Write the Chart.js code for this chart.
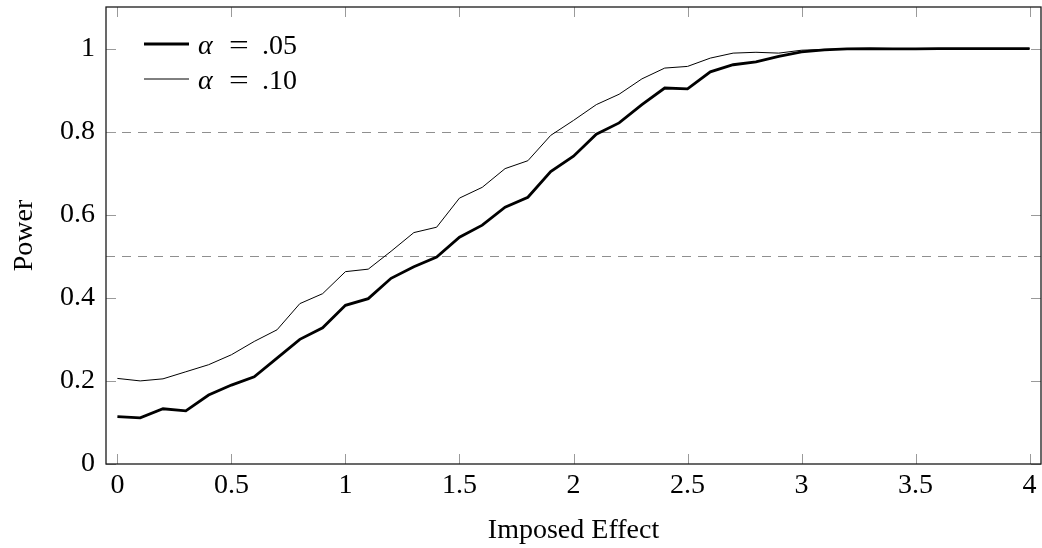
<!DOCTYPE html>
<html>
<head>
<meta charset="utf-8">
<script src="https://cdn.jsdelivr.net/npm/chart.js"></script>
<style>
  html, body { margin: 0; padding: 0; background: #fff; }
  canvas { display: block; }
</style>
</head>
<body>
<canvas id="powerChart" width="1042" height="548"></canvas>
<script>
// imposed effect (x) and power for the two alpha levels
const effects = [0, 0.1, 0.2, 0.3, 0.4, 0.5, 0.6, 0.7, 0.8, 0.9,
                 1.0, 1.1, 1.2, 1.3, 1.4, 1.5, 1.6, 1.7, 1.8, 1.9,
                 2.0, 2.1, 2.2, 2.3, 2.4, 2.5, 2.6, 2.7, 2.8, 2.9,
                 3.0, 3.1, 3.2, 3.3, 3.4, 3.5, 3.6, 3.7, 3.8, 3.9, 4.0];
const power05 = [0.114, 0.111, 0.133, 0.128, 0.166, 0.190, 0.210, 0.255, 0.300, 0.328,
                 0.382, 0.398, 0.447, 0.475, 0.498, 0.546, 0.575, 0.618, 0.642, 0.704,
                 0.741, 0.794, 0.821, 0.865, 0.905, 0.903, 0.944, 0.961, 0.968, 0.981,
                 0.992, 0.997, 0.999, 1.0, 0.999, 0.999, 1.0, 1.0, 1.0, 1.0, 1.0];
const power10 = [0.206, 0.200, 0.205, 0.222, 0.239, 0.263, 0.295, 0.323, 0.386, 0.410,
                 0.463, 0.469, 0.512, 0.557, 0.570, 0.640, 0.666, 0.711, 0.730, 0.791,
                 0.827, 0.865, 0.890, 0.927, 0.953, 0.957, 0.977, 0.989, 0.991, 0.989,
                 0.996, 0.998, 0.999, 1.0, 1.0, 1.0, 1.0, 1.0, 1.0, 1.0, 1.0];
const alphaLabels = ['.05', '.10'];
const xTicks = [0, 0.5, 1, 1.5, 2, 2.5, 3, 3.5, 4];
const yTicks = [0, 0.2, 0.4, 0.6, 0.8, 1];
const refLines = [0.5, 0.8];

const FONT = "'Liberation Serif', 'DejaVu Serif', serif";
const FSIZE = 28;

function toPoints(ys) {
    return effects.map((x, i) => ({ x: x, y: ys[i] }));
}

// dashed reference lines, inward ticks, frame and legend
const pgfLook = {
    id: 'pgfLook',
    beforeDatasetsDraw(chart) {
        const { ctx, chartArea: a, scales: { y } } = chart;
        ctx.save();
        ctx.strokeStyle = '#8f8f8f';
        ctx.lineWidth = 1;
        ctx.setLineDash([9, 7]);
        refLines.forEach(v => {
            const py = Math.round(y.getPixelForValue(v)) + 0.5;
            ctx.beginPath();
            ctx.moveTo(a.left, py);
            ctx.lineTo(a.right, py);
            ctx.stroke();
        });
        ctx.restore();
    },
    afterDatasetsDraw(chart) {
        const { ctx, chartArea: a, scales: { x, y } } = chart;
        const len = 10;
        ctx.save();
        ctx.strokeStyle = '#9a9a9a';
        ctx.lineWidth = 1;
        ctx.beginPath();
        xTicks.forEach(v => {
            const px = Math.round(x.getPixelForValue(v)) + 0.5;
            ctx.moveTo(px, a.bottom); ctx.lineTo(px, a.bottom - len);
            ctx.moveTo(px, a.top); ctx.lineTo(px, a.top + len);
        });
        yTicks.forEach(v => {
            const py = Math.round(y.getPixelForValue(v)) + 0.5;
            ctx.moveTo(a.left, py); ctx.lineTo(a.left + len, py);
            ctx.moveTo(a.right, py); ctx.lineTo(a.right - len, py);
        });
        ctx.stroke();

        ctx.strokeStyle = '#1a1a1a';
        ctx.lineWidth = 1.3;
        ctx.strokeRect(a.left, a.top, a.right - a.left, a.bottom - a.top);

        // legend, math-style spacing around "="
        chart.data.datasets.forEach((ds, i) => {
            const ly = 44 + 35 * i;
            ctx.strokeStyle = '#000';
            ctx.lineWidth = ds.borderWidth;
            ctx.beginPath();
            ctx.moveTo(144, ly);
            ctx.lineTo(189, ly);
            ctx.stroke();
            ctx.fillStyle = '#000';
            ctx.textBaseline = 'alphabetic';
            ctx.font = 'italic ' + FSIZE + 'px ' + FONT;
            ctx.fillText('\u03b1', 198, ly + 10);
            ctx.font = FSIZE + 'px ' + FONT;
            ctx.save();
            ctx.translate(229, 0);
            ctx.scale(1.25, 1);
            ctx.fillText('=', 0, ly + 10);
            ctx.restore();
            ctx.fillText(alphaLabels[i], 262, ly + 10);
        });
        ctx.restore();
    }
};

const ctx = document.getElementById('powerChart').getContext('2d');

const powerChart = new Chart(ctx, {
    type: 'line',
    data: {
        datasets: [{
            label: '\u03b1 = ' + alphaLabels[0],
            data: toPoints(power05),
            borderColor: '#000',
            borderWidth: 2.8,
            pointRadius: 0,
            tension: 0,
        }, {
            label: '\u03b1 = ' + alphaLabels[1],
            data: toPoints(power10),
            borderColor: '#000',
            borderWidth: 1,
            pointRadius: 0,
            tension: 0,
        }]
    },
    options: {
        responsive: false,
        animation: false,
        layout: { padding: { top: 7, right: 1, left: 0, bottom: 0 } },
        plugins: {
            legend: { display: false },
            tooltip: { enabled: false }
        },
        scales: {
            x: {
                type: 'linear',
                min: -0.05,
                max: 4.05,
                afterBuildTicks: s => { s.ticks = xTicks.map(v => ({ value: v })); },
                afterFit: s => { s.height = 84; s.paddingLeft = 0; s.paddingRight = 0; },
                grid: { display: false, drawTicks: false },
                border: { display: false },
                ticks: {
                    color: '#000',
                    padding: 5,
                    maxRotation: 0,
                    autoSkip: false,
                    font: { family: FONT, size: FSIZE },
                    callback: v => String(v)
                },
                title: {
                    display: true,
                    text: 'Imposed Effect',
                    color: '#000',
                    font: { family: FONT, size: FSIZE },
                    padding: { top: 0, bottom: 1 }
                }
            },
            y: {
                min: 0,
                max: 1.1,
                afterBuildTicks: s => { s.ticks = yTicks.map(v => ({ value: v })); },
                afterFit: s => { s.width = 106; s.paddingTop = 0; s.paddingBottom = 0; },
                grid: { display: false, drawTicks: false },
                border: { display: false },
                ticks: {
                    color: '#000',
                    padding: 11,
                    autoSkip: false,
                    font: { family: FONT, size: FSIZE },
                    callback: v => String(Number(v.toFixed(1)))
                },
                title: {
                    display: true,
                    text: 'Power',
                    color: '#000',
                    font: { family: FONT, size: FSIZE },
                    padding: { top: 8, bottom: 0 }
                }
            }
        }
    },
    plugins: [pgfLook]
});
</script>
</body>
</html>
